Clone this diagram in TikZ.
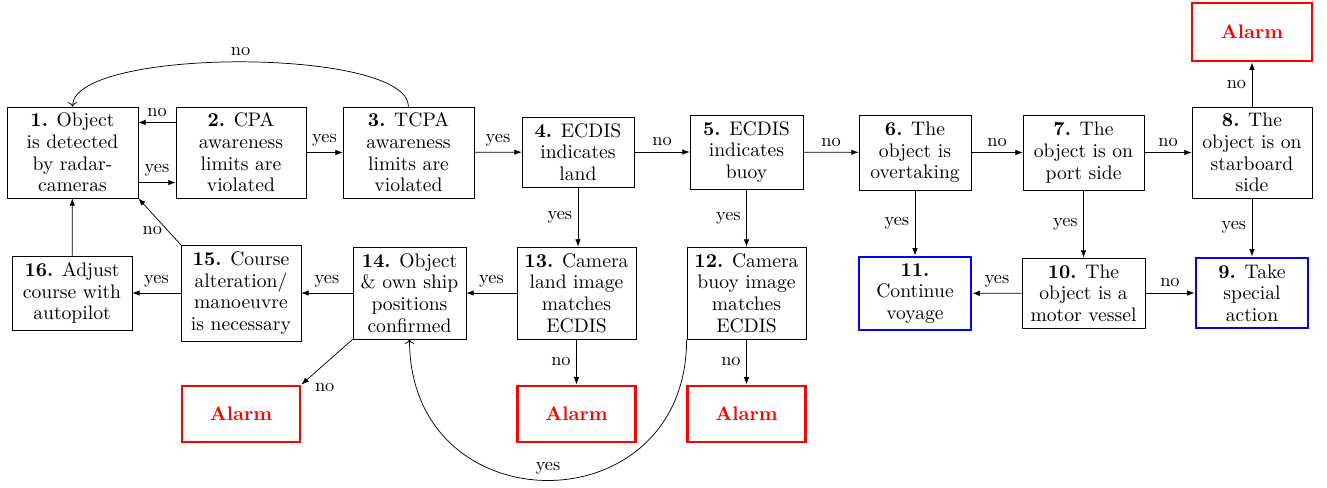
\documentclass[tikz,border=0pt]{standalone}
\usetikzlibrary{arrows.meta}
\begin{document}
\begin{tikzpicture}[x=0.5455pt,y=-0.5455pt,
  boxfont/.style={font=\fontsize{10.7pt}{11.8pt}\selectfont},
  box/.style 2 args={draw, line width=0.4pt, align=center, inner sep=0pt, boxfont,
    minimum width=#1*0.5455pt, minimum height=#2*0.5455pt},
  alarm/.style={draw=red, line width=1.6pt, text=red, font=\fontsize{10.7pt}{11.8pt}\selectfont\bfseries,
    minimum width=118*0.5455pt, minimum height=56*0.5455pt, inner sep=0pt},
  goal/.style 2 args={draw=blue, line width=1.6pt, align=center, inner sep=0pt, boxfont,
    minimum width=#1*0.5455pt, minimum height=#2*0.5455pt},
  arr/.style={-{Latex[length=4pt,width=3pt]}, line width=0.4pt},
  curv/.style={->, line width=0.4pt},
  lab/.style={inner sep=3pt}]
\useasboundingbox (0,0) rectangle (1327,488);

% decision and action steps
\node[box={131}{91}] (n1) at (72.5,152.5) {\textbf{1.} Object\\is detected\\by radar-\\cameras};
\node[box={130}{91}] (n2) at (241,152.5) {\textbf{2.} CPA\\awareness\\limits are\\violated};
\node[box={131}{91}] (n3) at (408.5,152.5) {\textbf{3.} TCPA\\awareness\\limits are\\violated};
\node[box={112}{70}] (n4) at (578,152) {\textbf{4.} ECDIS\\indicates\\land};
\node[box={113}{74}] (n5) at (746.5,152) {\textbf{5.} ECDIS\\indicates\\buoy};
\node[box={112}{75}] (n6) at (915,152.5) {\textbf{6.} The\\object is\\overtaking};
\node[box={121}{75}] (n7) at (1083.5,152.5) {\textbf{7.} The\\object is on\\port side};
\node[box={120}{91}] (n8) at (1252,152.5) {\textbf{8.} The\\object is on\\starboard\\side};
\node[alarm, minimum width=120*0.5455pt, minimum height=58*0.5455pt] (a8) at (1252,32) {Alarm};

\node[goal={112}{70}] (n9) at (1252,293) {\textbf{9.} Take\\special\\action};
\node[box={123}{70}] (n10) at (1083.5,293) {\textbf{10.} The\\object is a\\motor vessel};
\node[goal={112}{73}] (n11) at (915,293.5) {\textbf{11.}\\Continue\\voyage};
\node[box={119}{92}] (n12) at (746.5,293) {\textbf{12.} Camera\\buoy image\\matches\\ECDIS};
\node[box={119}{92}] (n13) at (576.5,293) {\textbf{13.} Camera\\land image\\matches\\ECDIS};
\node[box={113}{92}] (n14) at (409.5,293) {\textbf{14.} Object\\\& own ship\\positions\\confirmed};
\node[box={120}{96}] (n15) at (241,293) {\textbf{15.} Course\\alteration/\\manoeuvre\\is necessary};
\node[box={120}{74}] (n16) at (72,293) {\textbf{16.} Adjust\\course with\\autopilot};

\node[alarm] (a14) at (241,414) {Alarm};
\node[alarm] (a13) at (576.5,414) {Alarm};
\node[alarm] (a12) at (746.5,414) {Alarm};

% top row
\draw[arr] ([yshift=-16.4pt]n1.east) -- node[lab,above] {yes} ([yshift=-16.4pt]n2.west);
\draw[arr] ([yshift=16.4pt]n2.west) -- node[lab,above] {no} ([yshift=16.4pt]n1.east);
\draw[arr] (n2) -- node[lab,above] {yes} (n3);
\draw[arr] (n3) -- node[lab,above] {yes} (n4);
\draw[arr] (n4) -- node[lab,above] {no} (n5);
\draw[arr] (n5) -- node[lab,above] {no} (n6);
\draw[arr] (n6) -- node[lab,above] {no} (n7);
\draw[arr] (n7) -- node[lab,above] {no} (n8);
\draw[arr] (n8) -- node[lab,left] {no} (a8);
\draw[curv] (n3.north) to[out=90,in=90,looseness=0.455] node[lab,above] {no} (n1.north);

% downward branches
\draw[arr] (n8) -- node[lab,left] {yes} (n9);
\draw[arr] (n7) -- node[lab,left] {yes} (n10);
\draw[arr] (n6) -- node[lab,left] {yes} (n11);
\draw[arr] (n4.south) -- node[lab,left] {yes} (n13.north -| n4.south);
\draw[arr] (n5) -- node[lab,left] {yes} (n12);

% bottom row
\draw[arr] (n10) -- node[lab,above] {yes} (n11);
\draw[arr] (n10) -- node[lab,above] {no} (n9);
\draw[arr] (n13) -- node[lab,above] {yes} (n14);
\draw[arr] (n14) -- node[lab,above] {yes} (n15);
\draw[arr] (n15) -- node[lab,above] {yes} (n16);
\draw[arr] (n16) -- (n1);
\draw[arr] (n15.north west) -- node[lab,pos=0.3,left] {no} (n1.south east);
\draw[arr] (n14.south west) -- node[lab,pos=0.85,below right] {no} (a14.north east);
\draw[arr] (n13) -- node[lab,left] {no} (a13);
\draw[arr] (n12) -- node[lab,left] {no} (a12);
\draw[curv] (n12.south west) to[out=-90,in=-90,looseness=1.74] node[lab,above] {yes} (n14.south);
\end{tikzpicture}
\end{document}
